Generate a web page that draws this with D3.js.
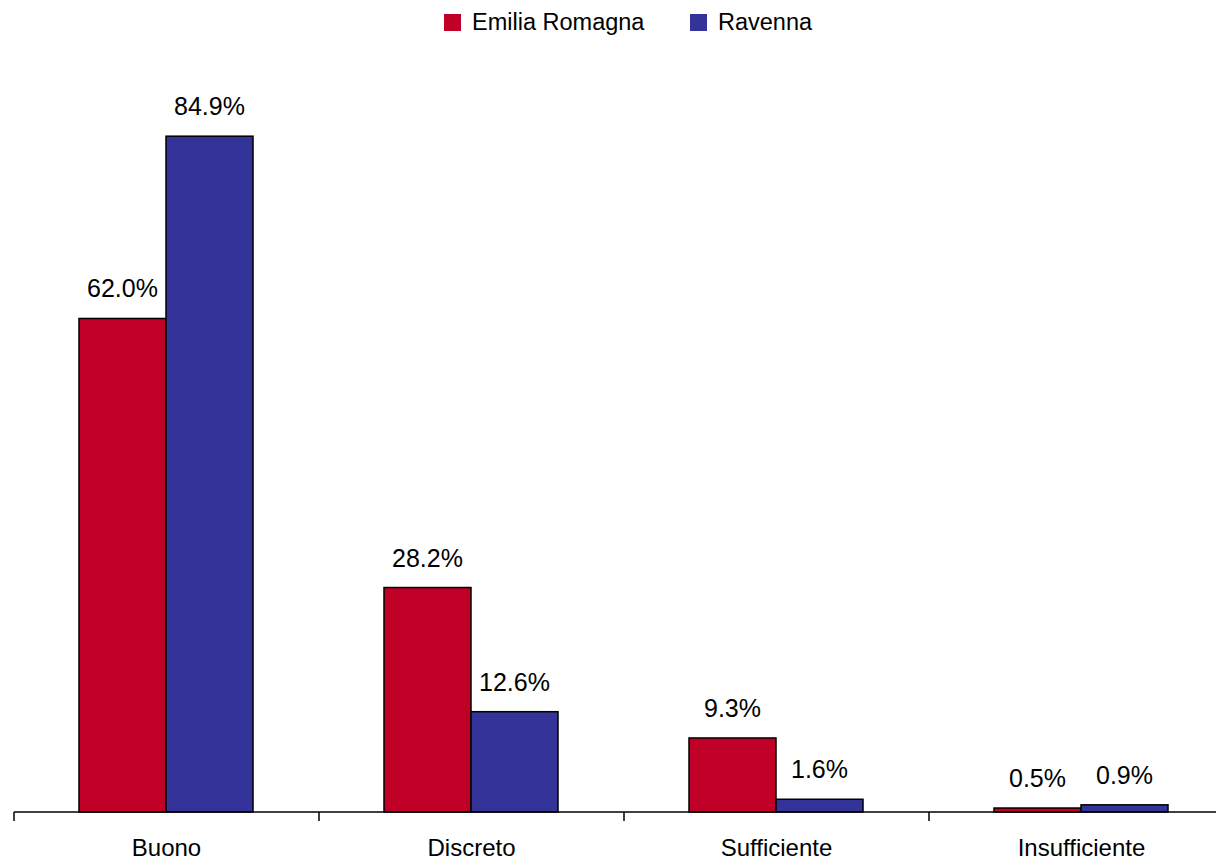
<!DOCTYPE html>
<html><head><meta charset="utf-8">
<script src="https://cdn.jsdelivr.net/npm/d3@7"></script>
<style>body{margin:0;background:#fff}svg{display:block;font-family:"Liberation Sans",Arial,sans-serif}</style>
</head><body>
<svg id="c" width="1216" height="860"></svg>
<script>
const categories = ["Buono","Discreto","Sufficiente","Insufficiente"];
const seriesNames = ["Emilia Romagna","Ravenna"];
const emiliaRomagna = [62.0, 28.2, 9.3, 0.5];
const ravenna = [84.9, 12.6, 1.6, 0.9];
const colors = ["#C00027","#333399"];

const svg = d3.select("#c");
const baseY = 812;
const x0 = d3.scaleBand().domain(categories).range([14, 14 + 4*305]).padding(0);
const x1 = d3.scaleBand().domain(seriesNames).range([65, 239]).padding(0);
const y = d3.scaleLinear().domain([0, 90]).range([baseY, baseY - 90*7.96]);

const data = categories.map((c,i)=>({cat:c, vals:[emiliaRomagna[i], ravenna[i]]}));

const g = svg.selectAll("g.cat").data(data).join("g").attr("transform", d=>`translate(${x0(d.cat)},0)`);
g.selectAll("rect").data(d=>d.vals.map((v,j)=>({v, s:seriesNames[j], j})))
 .join("rect")
 .attr("x", d=>x1(d.s)).attr("width", x1.bandwidth())
 .attr("y", d=>y(d.v)).attr("height", d=>baseY - y(d.v))
 .attr("fill", d=>colors[d.j]).attr("stroke","#000").attr("stroke-width",1.5);
g.selectAll("text.val").data(d=>d.vals.map((v,j)=>({v, s:seriesNames[j], j})))
 .join("text").attr("class","val")
 .attr("x", d=>x1(d.s)+x1.bandwidth()/2).attr("y", d=>y(d.v)-21)
 .attr("text-anchor","middle").attr("font-size",25).attr("fill","#000")
 .text(d=>d.v.toFixed(1)+"%");

// axis
svg.append("line").attr("x1",14).attr("x2",1216).attr("y1",baseY).attr("y2",baseY).attr("stroke","#000").attr("stroke-width",1.5);
categories.forEach(c=>{
  svg.append("line").attr("x1",x0(c)).attr("x2",x0(c)).attr("y1",baseY).attr("y2",baseY+9).attr("stroke","#000").attr("stroke-width",1.5);
  svg.append("text").attr("x",x0(c)+x0.bandwidth()/2).attr("y",856).attr("text-anchor","middle").attr("font-size",24).text(c);
});

// legend
const leg = [{x:444, tx:472},{x:690, tx:718}];
seriesNames.forEach((s,i)=>{
  svg.append("rect").attr("x",leg[i].x).attr("y",14).attr("width",17).attr("height",17).attr("fill",colors[i]);
  svg.append("text").attr("x",leg[i].tx).attr("y",30).attr("font-size",23.5).text(s);
});
</script>
</body></html>
